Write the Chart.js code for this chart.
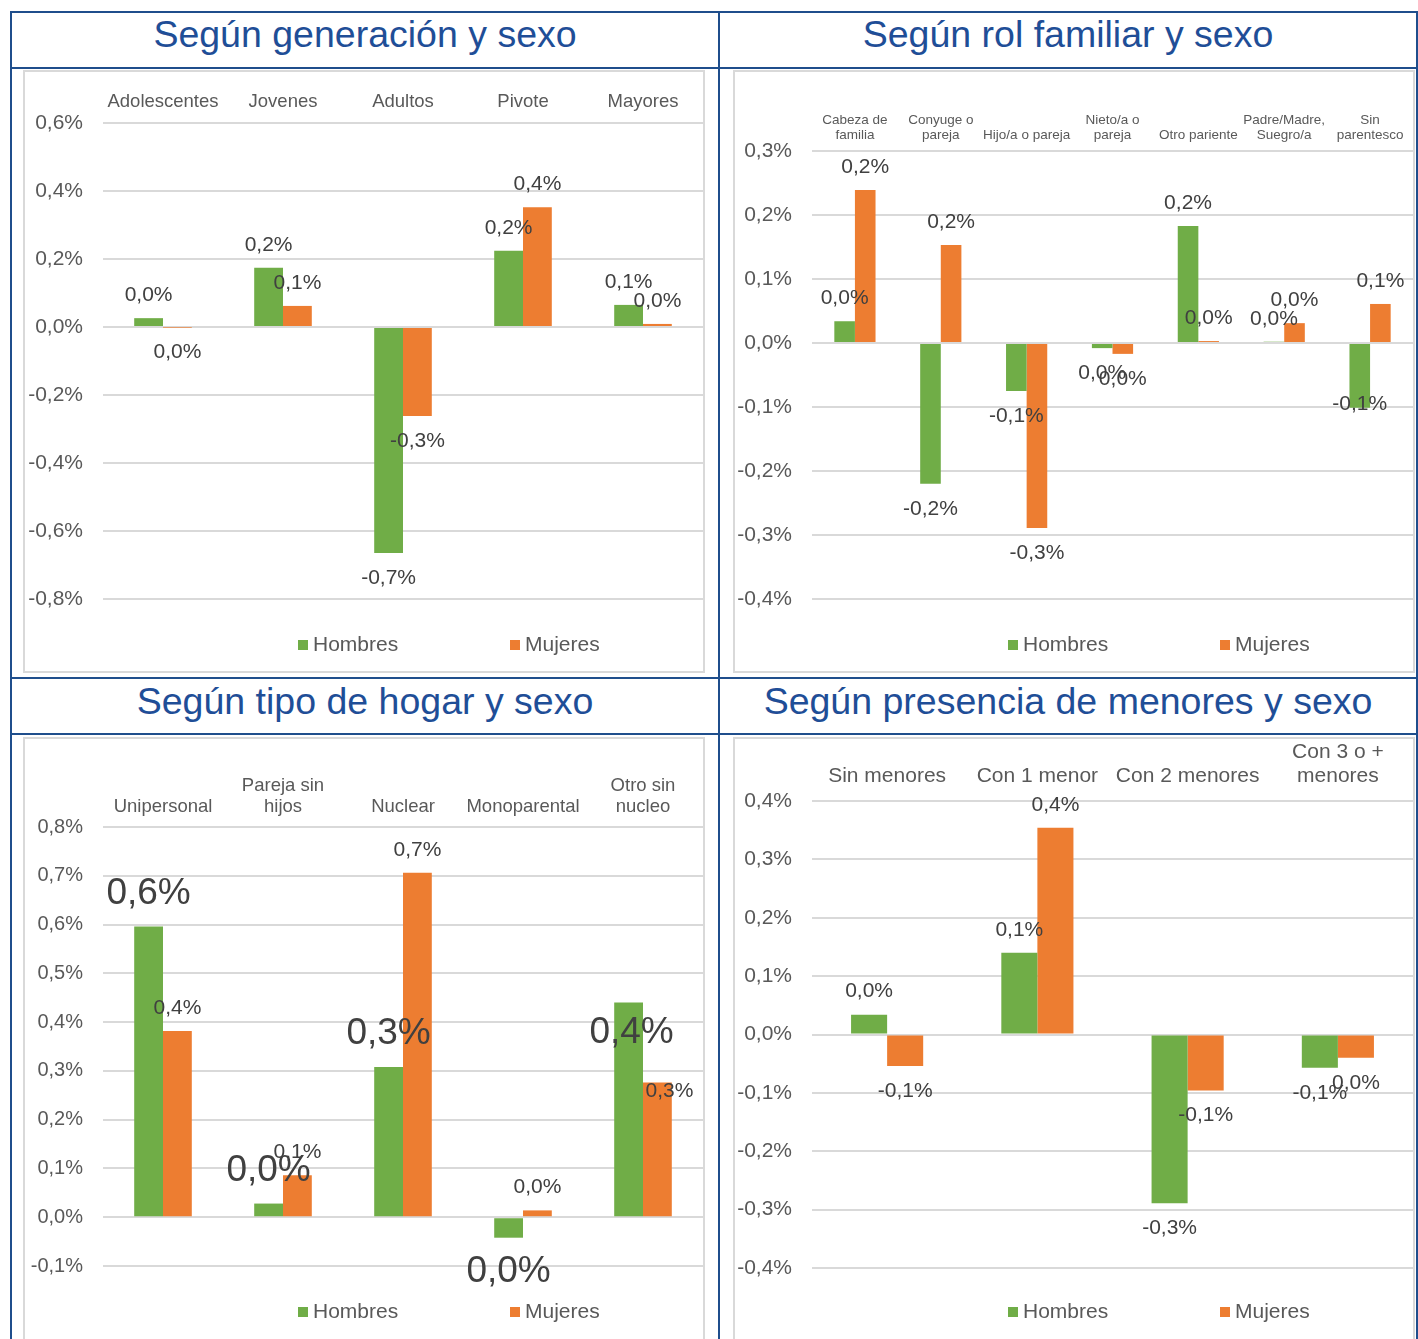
<!DOCTYPE html>
<html>
<head>
<meta charset="utf-8">
<script src="https://cdn.jsdelivr.net/npm/chart.js@4.4.1/dist/chart.umd.min.js"></script>
<style>
  body { margin: 0; background: #fff; font-family: "Liberation Sans", Arial, sans-serif; }
  #page { position: relative; width: 1418px; height: 1339px; overflow: hidden; }
  .line { position: absolute; background: #1f4e8c; }
  .title { position: absolute; text-align: center; color: #1f4e97; font-size: 37.5px; white-space: nowrap; }
  .box { position: absolute; border: 2px solid #d9d9d9; box-sizing: border-box; }
  .box canvas { position: absolute; left: 0; top: 0; }
  .leg { position: absolute; font-size: 21px; color: #595959; line-height: 24px; white-space: nowrap; }
  .leg i { display: inline-block; width: 10px; height: 10px; margin-right: 5px; vertical-align: 1px; }
</style>
</head>
<body>
<div id="page"></div>
<script>
// datos
const seriesNames = ['Hombres', 'Mujeres'];
const seriesColors = ['#70ad47', '#ed7d31'];

const genCategories = ['Adolescentes', 'Jovenes', 'Adultos', 'Pivote', 'Mayores'];
const genHombres = [0.026, 0.174, -0.665, 0.224, 0.065];
const genMujeres = [-0.001, 0.062, -0.262, 0.352, 0.009];
const genTicks = [-0.8, -0.6, -0.4, -0.2, 0, 0.2, 0.4, 0.6];

const rolCategories = [['Cabeza de', 'familia'], ['Conyuge o', 'pareja'], 'Hijo/a o pareja', ['Nieto/a o', 'pareja'], 'Otro pariente', ['Padre/Madre,', 'Suegro/a'], ['Sin', 'parentesco']];
const rolHombres = [0.034, -0.220, -0.075, -0.008, 0.183, 0.002, -0.101];
const rolMujeres = [0.239, 0.153, -0.289, -0.017, 0.003, 0.031, 0.061];
const rolTicks = [-0.4, -0.3, -0.2, -0.1, 0, 0.1, 0.2, 0.3];

const hogarCategories = ['Unipersonal', ['Pareja sin', 'hijos'], 'Nuclear', 'Monoparental', ['Otro sin', 'nucleo']];
const hogarHombres = [0.596, 0.028, 0.308, -0.042, 0.440];
const hogarMujeres = [0.382, 0.086, 0.706, 0.014, 0.276];
const hogarTicks = [-0.1, 0, 0.1, 0.2, 0.3, 0.4, 0.5, 0.6, 0.7, 0.8];

const menoresCategories = ['Sin menores', 'Con 1 menor', 'Con 2 menores', ['Con 3 o +', 'menores']];
const menoresHombres = [0.034, 0.140, -0.289, -0.057];
const menoresMujeres = [-0.054, 0.354, -0.096, -0.040];
const menoresTicks = [-0.4, -0.3, -0.2, -0.1, 0, 0.1, 0.2, 0.3, 0.4];

Chart.defaults.font.family = '"Liberation Sans", Arial, sans-serif';

function pct(v) {
  let s = Number(v).toFixed(1);
  if (s === '-0.0') s = '0.0';
  return s.replace('.', ',') + '%';
}

// etiquetas de datos (extremo exterior)
const barLabels = {
  id: 'barLabels',
  afterDatasetsDraw(chart, args, opts) {
    const ctx = chart.ctx;
    chart.data.datasets.forEach((ds, di) => {
      const meta = chart.getDatasetMeta(di);
      ctx.save();
      ctx.font = opts.sizes[di] + 'px "Liberation Sans", Arial, sans-serif';
      ctx.fillStyle = '#404040';
      ctx.textAlign = 'center';
      ctx.textBaseline = 'middle';
      meta.data.forEach((bar, i) => {
        const v = ds.data[i];
        const n = (opts.nudges || []).find(o => o.d === di && o.i === i) || { dx: 0, dy: 0 };
        const y = v >= 0 ? bar.y - opts.gaps[di][0] : bar.y + opts.gaps[di][1];
        ctx.fillText(pct(v), bar.x + n.dx, y + n.dy);
      });
      ctx.restore();
    });
  }
};

const page = document.getElementById('page');

function div(cls, css, html) {
  const d = document.createElement('div');
  d.className = cls;
  d.style.cssText = css;
  if (html) d.innerHTML = html;
  page.appendChild(d);
  return d;
}

// marco azul
div('line', 'left:10px;top:11px;width:1408px;height:2px');
div('line', 'left:10px;top:67px;width:1408px;height:2px');
div('line', 'left:10px;top:677px;width:1408px;height:2px');
div('line', 'left:10px;top:733px;width:1408px;height:2px');
div('line', 'left:10px;top:11px;width:2px;height:1340px');
div('line', 'left:718px;top:11px;width:2px;height:1340px');
div('line', 'left:1416px;top:11px;width:2px;height:1340px');

const panels = [
  {
    title: 'Según generación y sexo', titleX: 12, titleY: 12, titleW: 706,
    box: [23, 70, 705, 673], plot: [103, 123, 703, 599],
    categories: genCategories, hombres: genHombres, mujeres: genMujeres, ticks: genTicks,
    xFont: 18.5, xLine: 21, xPad: 3, yFont: 21,
    sizes: [21, 21], gaps: [[23, 25], [23, 25]], nudges: []
  },
  {
    title: 'Según rol familiar y sexo', titleX: 720, titleY: 12, titleW: 696,
    box: [733, 70, 1415, 673], plot: [812, 151, 1413, 599],
    categories: rolCategories, hombres: rolHombres, mujeres: rolMujeres, ticks: rolTicks,
    xFont: 13.5, xLine: 15, xPad: 0, yFont: 21,
    sizes: [21, 21], gaps: [[23, 25], [23, 25]],
    nudges: [{ d: 0, i: 6, dx: 0, dy: -28 }]
  },
  {
    title: 'Según tipo de hogar y sexo', titleX: 12, titleY: 679, titleW: 706,
    box: [23, 737, 705, 1345], plot: [103, 827, 703, 1266],
    categories: hogarCategories, hombres: hogarHombres, mujeres: hogarMujeres, ticks: hogarTicks,
    xFont: 18.5, xLine: 21, xPad: 2, yFont: 20,
    sizes: [37, 21], gaps: [[33, 34], [23, 25]],
    nudges: [{ d: 0, i: 4, dx: 3, dy: 63 }, { d: 1, i: 4, dx: 12, dy: 32 }]
  },
  {
    title: 'Según presencia de menores y sexo', titleX: 720, titleY: 679, titleW: 696,
    box: [733, 737, 1415, 1345], plot: [812, 801, 1413, 1268],
    categories: menoresCategories, hombres: menoresHombres, mujeres: menoresMujeres, ticks: menoresTicks,
    xFont: 21, xLine: 24, xPad: 5, yFont: 21,
    sizes: [21, 21], gaps: [[23, 25], [23, 25]], nudges: []
  }
];

panels.forEach(p => {
  div('title', `left:${p.titleX}px;top:${p.titleY - 1}px;width:${p.titleW}px;height:46px;line-height:46px`, p.title);

  const [bl, bt, br, bb] = p.box;
  const box = div('box', `left:${bl}px;top:${bt}px;width:${br - bl}px;height:${bb - bt}px`);
  const cl = bl + 2, ct = bt + 2, cw = br - bl - 4, ch = bb - bt - 4;
  const canvas = document.createElement('canvas');
  canvas.width = cw;
  canvas.height = ch;
  canvas.style.cssText = `left:0;top:0;width:${cw}px;height:${ch}px`;
  box.appendChild(canvas);

  const [pl, pt, pr, pb] = p.plot;

  new Chart(canvas, {
    type: 'bar',
    data: {
      labels: p.categories,
      datasets: [
        { label: seriesNames[0], data: p.hombres, backgroundColor: seriesColors[0] },
        { label: seriesNames[1], data: p.mujeres, backgroundColor: seriesColors[1] }
      ]
    },
    options: {
      responsive: false,
      animation: false,
      layout: { padding: { left: 0, top: 0, right: (cl + cw) - pr, bottom: (ct + ch) - pb } },
      datasets: { bar: { categoryPercentage: 0.48, barPercentage: 1 } },
      plugins: {
        legend: { display: false },
        tooltip: { enabled: false },
        barLabels: { sizes: p.sizes, gaps: p.gaps, nudges: p.nudges }
      },
      scales: {
        x: {
          position: 'top',
          grid: { display: false },
          border: { display: false },
          ticks: {
            autoSkip: false, maxRotation: 0, minRotation: 0,
            color: '#595959', padding: p.xPad,
            font: { size: p.xFont, lineHeight: p.xLine + 'px' }
          },
          afterFit: s => { s.height = pt - ct; }
        },
        y: {
          min: p.ticks[0],
          max: p.ticks[p.ticks.length - 1],
          afterBuildTicks: s => { s.ticks = p.ticks.map(v => ({ value: v })); },
          grid: { color: '#d9d9d9', lineWidth: 2, drawTicks: false },
          border: { display: false },
          ticks: { color: '#595959', padding: 20, font: { size: p.yFont }, callback: v => pct(v) },
          afterFit: s => { s.width = pl - cl; }
        }
      }
    },
    plugins: [barLabels]
  });

  // leyenda
  seriesNames.forEach((name, k) => {
    div('leg', `left:${bl + 275 + k * 212}px;top:${bt + 574 - 12}px`,
      `<i style="background:${seriesColors[k]}"></i>${name}`);
  });
});
</script>
</body>
</html>
